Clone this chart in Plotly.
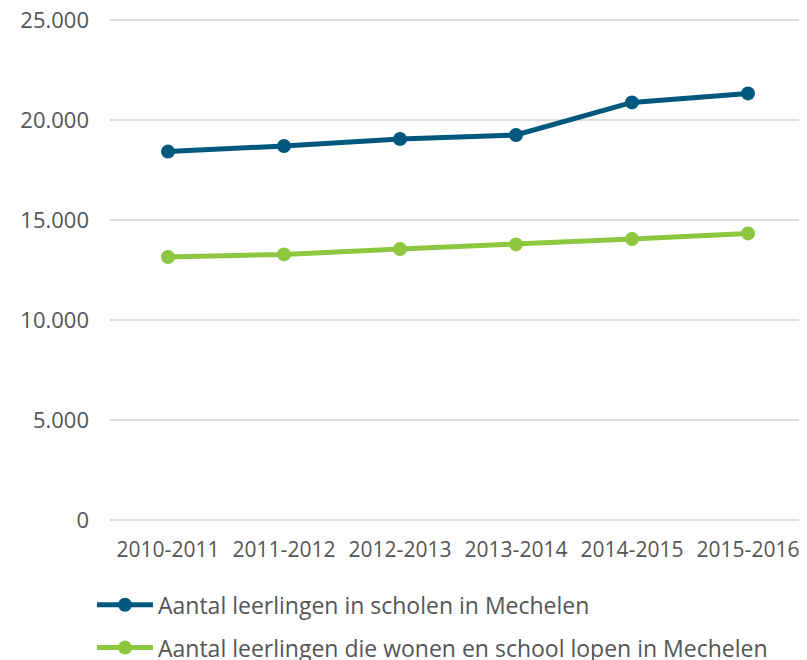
import plotly.graph_objects as go

categories = ["2010-2011", "2011-2012", "2012-2013", "2013-2014", "2014-2015", "2015-2016"]
scholen = [18420, 18700, 19050, 19250, 20880, 21330]
wonen_school = [13150, 13280, 13550, 13780, 14050, 14330]
name_scholen = "Aantal leerlingen in scholen in Mechelen"
name_wonen = "Aantal leerlingen die wonen en school lopen in Mechelen"
y_ticks = [0, 5000, 10000, 15000, 20000, 25000]

blue = "#00587f"
green = "#8dc63f"
font_family = "'Open Sans', sans-serif"
text_color = "#555555"

fig = go.Figure()
fig.add_trace(go.Scatter(x=categories, y=scholen, name=name_scholen, mode="lines+markers",
                         line=dict(color=blue, width=5), marker=dict(size=14, color=blue),
                         legendgroup="a"))
fig.add_trace(go.Scatter(x=categories, y=wonen_school, name=name_wonen, mode="lines+markers",
                         line=dict(color=green, width=5), marker=dict(size=14, color=green),
                         legendgroup="b"))

fig.update_layout(
    width=799, height=652,
    margin=dict(l=102, r=1, t=10, b=140, autoexpand=False),
    plot_bgcolor="white", paper_bgcolor="white",
    separators=",.",
    font=dict(family=font_family, size=21, color=text_color),
    showlegend=True,
    legend=dict(orientation="v", x=-0.0259, xanchor="left", y=-0.126, yanchor="top",
                font=dict(size=23, color=text_color), tracegroupgap=10,
                traceorder="grouped", itemwidth=56),
    hovermode=False,
)
fig.update_xaxes(type="category", range=[-0.5, 5.5], showgrid=False, zeroline=False,
                 showline=False, ticks="", ticklabelstandoff=15,
                 tickfont=dict(size=21, color=text_color))
fig.update_yaxes(range=[0, 25100], tickvals=y_ticks, tickformat=",d", showgrid=True,
                 gridcolor="#dddddd", gridwidth=1.5, zeroline=True, zerolinecolor="#dddddd",
                 zerolinewidth=1.5, showline=False, ticks="", ticklabelstandoff=20,
                 ticklabeloverflow="allow",
                 tickfont=dict(size=22, color=text_color))

fig.write_html("out.html")
